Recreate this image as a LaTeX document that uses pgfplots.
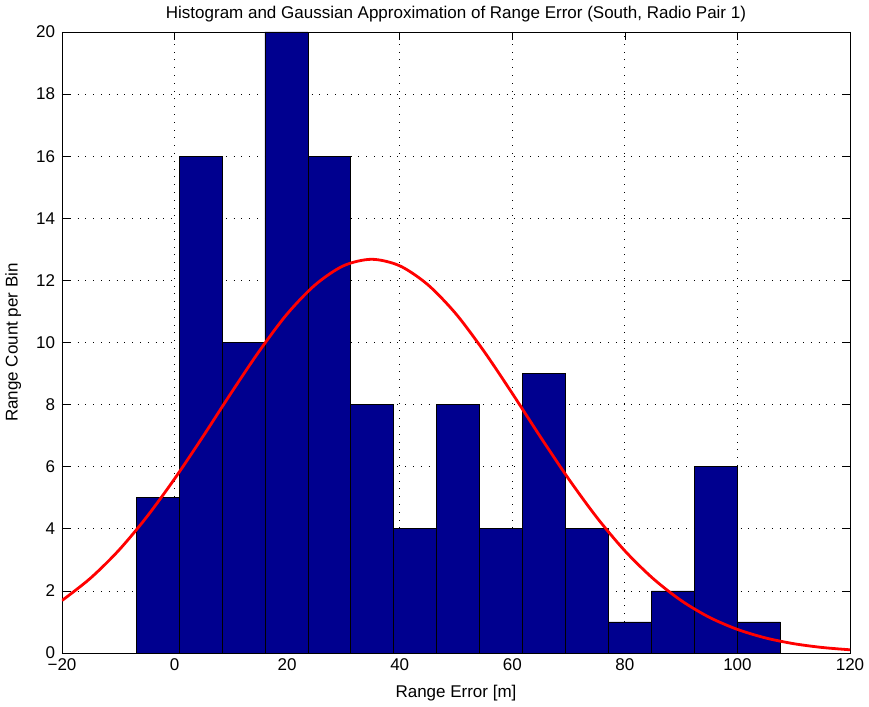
\documentclass[border=0pt]{standalone}
\usepackage{pgfplots}
\pgfplotsset{compat=1.18}
\usepackage{fontspec}
\setmainfont{Liberation Sans}
\definecolor{jetblue}{RGB}{0,0,143}
\begin{document}
\fontsize{17}{19}\selectfont
\begin{tikzpicture}
  \begin{axis}[
      name=ax,
      scale only axis,
      width=788pt,
      height=621pt,
      xmin=-20, xmax=120,
      ymin=0, ymax=20,
      xtick={-20,0,...,120},
      xticklabels={−20,0,20,40,60,80,100,120},
      ytick={0,2,...,20},
      tick align=inside,
      major tick length=8pt,
      tick style={black, line width=0.6pt},
      axis line style={black, line width=0.9pt},
      grid=major,
      grid style={black, line width=0.8pt, dash pattern=on 0.8pt off 7pt},
      /pgf/number format/assume math mode=true,
      ticklabel style={font=\fontsize{17}{19}\selectfont},
      yticklabel style={xshift=-1pt},
      title={Histogram and Gaussian Approximation of Range Error (South, Radio Pair 1)},
      title style={font=\fontsize{17}{19}\selectfont, at={(axis description cs:0.5,1)}, anchor=south, yshift=-2pt},
      xlabel={Range Error [m]},
      ylabel={Range Count per Bin},
      label style={font=\fontsize{17}{19}\selectfont},
      xlabel style={at={(axis description cs:0.5,0)}, anchor=north, yshift=-26pt},
      ylabel style={at={(axis description cs:0,0.5)}, anchor=south, yshift=35pt},
  ]
  % histogram, 15 bins
  \addplot[
      ybar interval,
      fill=jetblue,
      draw=black,
      line width=0.7pt,
      ]
      coordinates {
          (-6.84, 5)
          (0.79, 16)
          (8.42, 10)
          (16.05, 20)
          (23.68, 16)
          (31.31, 8)
          (38.94, 4)
          (46.57, 8)
          (54.20, 4)
          (61.83, 9)
          (69.46, 4)
          (77.09, 1)
          (84.72, 2)
          (92.35, 6)
          (99.98, 1)
          (107.61, 1)
      };

  % gaussian fit
  \addplot[
      color=red,
      line width=2.8pt,
      smooth,
      no marks,
      ]
      coordinates {
          (-20, 1.69) (-15, 2.40) (-10, 3.29) (-5, 4.37)
          (0, 5.61) (5, 6.96) (10, 8.36) (15, 9.71)
          (20, 10.92) (25, 11.86) (30, 12.47) (35, 12.68)
          (40, 12.47) (45, 11.86) (50, 10.92) (55, 9.71)
          (60, 8.36) (65, 6.96) (70, 5.61) (75, 4.37)
          (80, 3.29) (85, 2.40) (90, 1.69) (95, 1.15)
          (100, 0.76) (105, 0.485) (110, 0.30) (115, 0.179)
          (120, 0.103)
      };
  \end{axis}
  \pgfresetboundingbox
  \path ([xshift=-62pt,yshift=-53pt]ax.south west) rectangle ([xshift=19pt,yshift=32pt]ax.north east);
\end{tikzpicture}
\end{document}
